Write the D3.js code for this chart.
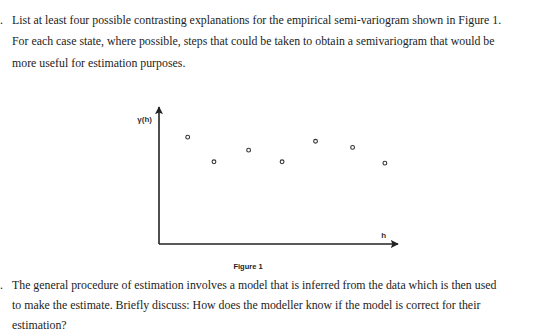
<!DOCTYPE html>
<html>
<head>
<meta charset="utf-8">
<script src="https://cdn.jsdelivr.net/npm/d3@7"></script>
<style>
  body { margin: 0; background: #fff; }
  svg { display: block; }
</style>
</head>
<body>
<div id="page"></div>
<script>
// question text lines above and below the figure
const topLines = [
  "List at least four possible contrasting explanations for the empirical semi-variogram shown in Figure 1.",
  "For each case state, where possible, steps that could be taken to obtain a semivariogram that would be",
  "more useful for estimation purposes."
];
const bottomLines = [
  "The general procedure of estimation involves a model that is inferred from the data which is then used",
  "to make the estimate. Briefly discuss: How does the modeller know if the model is correct for their",
  "estimation?"
];

// empirical semi-variogram points (lag h, gamma(h))
const lags = [1.2, 2.3, 3.75, 5.15, 6.55, 8.1, 9.45];
const gammas = [0.78, 0.60, 0.685, 0.60, 0.75, 0.705, 0.59];

const width = 560;
const height = 332;

const svg = d3.select("#page").append("svg")
  .attr("width", width)
  .attr("height", height);

// Top paragraph
const serif = "'Liberation Serif', 'Times New Roman', serif";
const bodySize = "11.85px";
svg.append("text").text(".").attr("x", 0).attr("y", 23.5)
  .style("font-family", serif).style("font-size", bodySize).attr("fill", "#222");
svg.selectAll(".top-line")
  .data(topLines)
  .join("text")
  .attr("class", "top-line")
  .attr("x", 12)
  .attr("y", (d, i) => 23.5 + i * 21.5)
  .style("font-family", serif)
  .style("font-size", bodySize)
  .attr("fill", "#222")
  .text(d => d);

// Figure
const marginLeft = 159;
const axisRight = 398;
const axisBottom = 244;
const axisTop = 107;

const x = d3.scaleLinear().domain([0, 10]).range([marginLeft, axisRight]);
const y = d3.scaleLinear().domain([0, 1]).range([axisBottom, axisTop]);

const defs = svg.append("defs");
defs.append("marker")
  .attr("id", "arrow")
  .attr("viewBox", "0 0 10 10")
  .attr("refX", 9)
  .attr("refY", 5)
  .attr("markerWidth", 5)
  .attr("markerHeight", 5)
  .attr("markerUnits", "strokeWidth")
  .attr("orient", "auto")
  .append("path")
  .attr("d", "M0,0 L10,5 L0,10 L2,5 Z")
  .attr("fill", "#222");

// y axis
svg.append("line")
  .attr("x1", x(0)).attr("y1", y(0))
  .attr("x2", x(0)).attr("y2", y(1))
  .attr("stroke", "#222")
  .attr("stroke-width", 1.6)
  .attr("marker-end", "url(#arrow)");
// x axis
svg.append("line")
  .attr("x1", x(0)).attr("y1", y(0))
  .attr("x2", x(10)).attr("y2", y(0))
  .attr("stroke", "#222")
  .attr("stroke-width", 1.6)
  .attr("marker-end", "url(#arrow)");

svg.append("text")
  .attr("x", x(0) - 7).attr("y", y(0.9) + 1)
  .attr("text-anchor", "end")
  .style("font-family", "'Liberation Sans', Arial, sans-serif")
  .style("font-size", "8px")
  .style("font-weight", "bold")
  .attr("fill", "#333")
  .text("γ(h)");

svg.append("text")
  .attr("x", x(9.3)).attr("y", y(0) - 6)
  .style("font-family", "'Liberation Sans', Arial, sans-serif")
  .style("font-size", "8px")
  .style("font-weight", "bold")
  .attr("fill", "#333")
  .text("h");

svg.selectAll(".pt")
  .data(lags)
  .join("circle")
  .attr("class", "pt")
  .attr("cx", d => x(d))
  .attr("cy", (d, i) => y(gammas[i]))
  .attr("r", 1.9)
  .attr("fill", "none")
  .attr("stroke", "#333")
  .attr("stroke-width", 1.1);

svg.append("text")
  .attr("x", 248).attr("y", 269)
  .attr("text-anchor", "middle")
  .style("font-family", "'Liberation Sans', Arial, sans-serif")
  .style("font-size", "7.5px")
  .style("font-weight", "bold")
  .attr("fill", "#222")
  .text("Figure 1");

// Bottom paragraph
svg.append("text").text(".").attr("x", 0).attr("y", 288.5)
  .style("font-family", serif).style("font-size", bodySize).attr("fill", "#222");
svg.selectAll(".bottom-line")
  .data(bottomLines)
  .join("text")
  .attr("class", "bottom-line")
  .attr("x", 12)
  .attr("y", (d, i) => 288.5 + i * 20.3)
  .style("font-family", serif)
  .style("font-size", bodySize)
  .attr("fill", "#222")
  .text(d => d);
</script>
</body>
</html>
